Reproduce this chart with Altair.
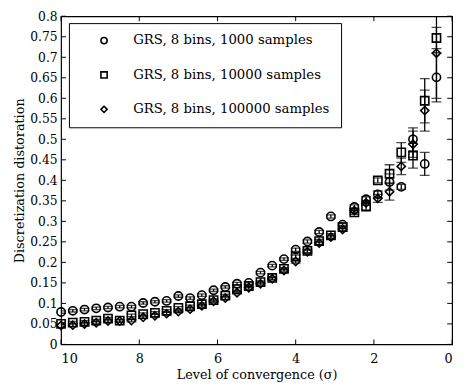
import altair as alt
import pandas as pd

sigma = [10.0, 9.7, 9.4, 9.1, 8.8, 8.5, 8.2, 7.9, 7.6, 7.3, 7.0, 6.7, 6.4, 6.1, 5.8, 5.5,
         5.2, 4.9, 4.6, 4.3, 4.0, 3.7, 3.4, 3.1, 2.8, 2.5, 2.2, 1.9, 1.6, 1.3, 1.0, 0.7, 0.4]

d1000 = [0.079, 0.082, 0.085, 0.088, 0.090, 0.092, 0.092, 0.101, 0.104, 0.106, 0.118, 0.113,
         0.120, 0.132, 0.140, 0.148, 0.150, 0.175, 0.192, 0.208, 0.231, 0.251, 0.274, 0.312,
         0.292, 0.335, 0.354, 0.366, 0.396, 0.384, 0.500, 0.440, 0.651]
e1000 = [0.003, 0.003, 0.003, 0.003, 0.003, 0.003, 0.003, 0.003, 0.003, 0.003, 0.003, 0.003,
         0.003, 0.003, 0.003, 0.003, 0.003, 0.003, 0.003, 0.003, 0.004, 0.004, 0.004, 0.004,
         0.004, 0.005, 0.006, 0.008, 0.020, 0.006, 0.028, 0.028, 0.060]

d10000 = [0.050, 0.053, 0.055, 0.058, 0.063, 0.058, 0.071, 0.074, 0.077, 0.082, 0.089, 0.093,
          0.098, 0.108, 0.119, 0.135, 0.142, 0.152, 0.162, 0.184, 0.214, 0.228, 0.252, 0.266,
          0.286, 0.322, 0.336, 0.400, 0.416, 0.468, 0.460, 0.594, 0.747]
e10000 = [0.003, 0.003, 0.003, 0.003, 0.003, 0.003, 0.003, 0.003, 0.003, 0.003, 0.003, 0.003,
          0.003, 0.003, 0.003, 0.003, 0.003, 0.003, 0.003, 0.003, 0.004, 0.004, 0.004, 0.004,
          0.004, 0.005, 0.008, 0.006, 0.022, 0.024, 0.030, 0.054, 0.026]

d100000 = [0.046, 0.047, 0.050, 0.053, 0.057, 0.057, 0.058, 0.066, 0.070, 0.075, 0.080, 0.086,
           0.094, 0.105, 0.113, 0.126, 0.138, 0.148, 0.160, 0.180, 0.202, 0.226, 0.247, 0.262,
           0.280, 0.326, 0.345, 0.356, 0.372, 0.434, 0.488, 0.570, 0.710]
e100000 = [0.003, 0.003, 0.003, 0.003, 0.003, 0.003, 0.003, 0.003, 0.003, 0.003, 0.003, 0.003,
           0.003, 0.003, 0.003, 0.003, 0.003, 0.003, 0.003, 0.003, 0.004, 0.004, 0.004, 0.004,
           0.004, 0.005, 0.006, 0.010, 0.020, 0.020, 0.032, 0.050, 0.110]

series_names = ["GRS, 8 bins, 1000 samples", "GRS, 8 bins, 10000 samples",
                "GRS, 8 bins, 100000 samples"]
shapes = ["circle", "square", "diamond"]

x_ticks = [0, 2, 4, 6, 8, 10]
y_ticks = [0, 0.05, 0.1, 0.15, 0.2, 0.25, 0.3, 0.35, 0.4, 0.45, 0.5, 0.55, 0.6, 0.65,
           0.7, 0.75, 0.8]

rows = []
for name, vals, errs, order in [(series_names[0], d1000, e1000, 0),
                                (series_names[1], d10000, e10000, 1),
                                (series_names[2], d100000, e100000, 2)]:
    for s, v, e in zip(sigma, vals, errs):
        rows.append({"sigma": s, "value": v, "lo": v - e, "hi": v + e,
                     "series": name, "order": order})
df = pd.DataFrame(rows)

FONT = "DejaVu Serif"

xscale = alt.Scale(domain=[0, 10], reverse=True, nice=False)
yscale = alt.Scale(domain=[0, 0.8], nice=False)

XAX = alt.Axis(values=x_ticks, ticks=False, domain=False, grid=False,
               labelPadding=8, format="d", titlePadding=4, labelOverlap=False,
               labelFont=FONT, labelFontSize=13, labelColor="black",
               titleFont=FONT, titleFontSize=13, titleFontWeight="normal",
               titleColor="black", title="Level of convergence (σ)")
YAX = alt.Axis(values=y_ticks, ticks=False, domain=False, grid=False,
               labelPadding=4, format="~g", titlePadding=3, labelOverlap=False,
               labelFont=FONT, labelFontSize=12.5, labelColor="black",
               titleFont=FONT, titleFontSize=13, titleFontWeight="normal",
               titleColor="black", title="Discretization distoration")


def X(field):
    return alt.X(field, scale=xscale, axis=XAX)


def Y(field):
    return alt.Y(field, scale=yscale, axis=YAX)


def XD(v):
    return alt.XDatum(v, scale=xscale, axis=XAX)


def YD(v):
    return alt.YDatum(v, scale=yscale, axis=YAX)


base = alt.Chart(df)

bars = base.mark_rule(color="black", strokeWidth=1.3, clip=True).encode(
    x=X("sigma:Q"), y=Y("lo:Q"), y2="hi:Q")
cap_lo = base.mark_tick(color="black", orient="horizontal", size=10, thickness=1.3,
                        clip=True).encode(x=X("sigma:Q"), y=Y("lo:Q"))
cap_hi = base.mark_tick(color="black", orient="horizontal", size=10, thickness=1.3,
                        clip=True).encode(x=X("sigma:Q"), y=Y("hi:Q"))

points = base.mark_point(filled=False, color="black", strokeWidth=1.6, size=70,
                         opacity=1).encode(
    x=X("sigma:Q"), y=Y("value:Q"),
    shape=alt.Shape("series:N", scale=alt.Scale(domain=series_names, range=shapes),
                    legend=alt.Legend(title=None, orient="none", legendX=8, legendY=7,
                                      labelFont=FONT, labelFontSize=13.5, labelColor="black",
                                      labelLimit=400,
                                      symbolSize=40, symbolStrokeWidth=1.6,
                                      symbolStrokeColor="black", symbolFillColor="white",
                                      symbolOffset=18, labelOffset=23, rowPadding=20,
                                      padding=11, strokeColor="black", fillColor="white")),
    order="order:Q")

xt = pd.DataFrame({"v": x_ticks})
yt = pd.DataFrame({"v": y_ticks})
xt_bot = alt.Chart(xt).mark_rule(color="black", strokeWidth=1).encode(
    x=X("v:Q"), y=YD(0), y2=alt.Y2Datum(0.012))
xt_top = alt.Chart(xt).mark_rule(color="black", strokeWidth=1).encode(
    x=X("v:Q"), y=YD(0.788), y2=alt.Y2Datum(0.8))
yt_left = alt.Chart(yt).mark_rule(color="black", strokeWidth=1).encode(
    y=Y("v:Q"), x=XD(10), x2=alt.X2Datum(9.875))
yt_right = alt.Chart(yt).mark_rule(color="black", strokeWidth=1).encode(
    y=Y("v:Q"), x=XD(0), x2=alt.X2Datum(0.125))

chart = alt.layer(xt_bot, xt_top, yt_left, yt_right, bars, cap_lo, cap_hi, points).properties(
    width=398, height=334, background="white",
    autosize=alt.AutoSizeParams(type="none"),
    padding={"left": 54, "top": 5, "right": 6, "bottom": 43}
).configure_view(stroke="black", strokeWidth=1.2)

chart.save("out.html", embed_options={"renderer": "svg", "actions": False})
